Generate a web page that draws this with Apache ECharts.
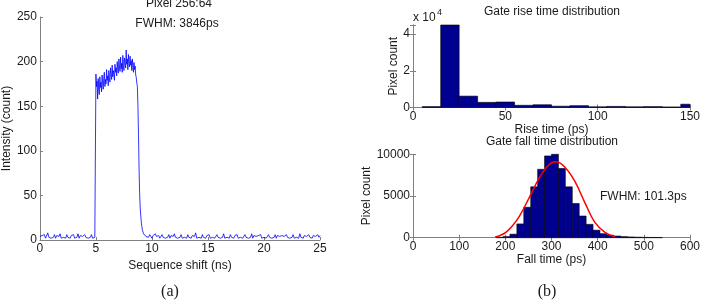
<!DOCTYPE html>
<html>
<head>
<meta charset="utf-8">
<script src="https://cdn.jsdelivr.net/npm/echarts/dist/echarts.min.js"></script>
<style>
    html, body { margin: 0; padding: 0; background: #fff; }
    #chart { width: 703px; height: 303px; }
</style>
</head>
<body>
<div id="chart"></div>
<script>
    // (a) intensity trace of pixel 256:64
    const shiftNs = [
        0, 0.1, 0.2, 0.3, 0.4, 0.5, 0.6, 0.7, 0.8, 0.9,
        1, 1.1, 1.2, 1.3, 1.4, 1.5, 1.6, 1.7, 1.8, 1.9,
        2, 2.1, 2.2, 2.3, 2.4, 2.5, 2.6, 2.7, 2.8, 2.9,
        3, 3.1, 3.2, 3.3, 3.4, 3.5, 3.6, 3.7, 3.8, 3.9,
        4, 4.1, 4.2, 4.3, 4.4, 4.5, 4.6, 4.7, 4.8, 4.9, 4.99,
        5, 5.05, 5.1, 5.15, 5.2, 5.25, 5.3, 5.35, 5.4, 5.45,
        5.5, 5.55, 5.6, 5.65, 5.7, 5.75, 5.8, 5.85, 5.9, 5.95,
        6, 6.05, 6.1, 6.15, 6.2, 6.25, 6.3, 6.35, 6.4, 6.45,
        6.5, 6.55, 6.6, 6.65, 6.7, 6.75, 6.8, 6.85, 6.9, 6.95,
        7, 7.05, 7.1, 7.15, 7.2, 7.25, 7.3, 7.35, 7.4, 7.45,
        7.5, 7.55, 7.6, 7.65, 7.7, 7.75, 7.8, 7.85, 7.9, 7.95,
        8, 8.05, 8.1, 8.15, 8.2, 8.25, 8.3, 8.35, 8.4, 8.45,
        8.5, 8.55, 8.6, 8.65, 8.7, 8.75, 8.8, 8.85, 8.9, 8.95,
        9, 9.05, 9.1, 9.15, 9.2, 9.25, 9.3, 9.35, 9.4, 9.45, 9.5,
        9.6, 9.7, 9.8, 9.9, 10, 10.1, 10.2, 10.3, 10.4, 10.5,
        10.6, 10.7, 10.8, 10.9, 11, 11.1, 11.2, 11.3, 11.4, 11.5,
        11.6, 11.7, 11.8, 11.9, 12, 12.1, 12.2, 12.3, 12.4, 12.5,
        12.6, 12.7, 12.8, 12.9, 13, 13.1, 13.2, 13.3, 13.4, 13.5,
        13.6, 13.7, 13.8, 13.9, 14, 14.1, 14.2, 14.3, 14.4, 14.5,
        14.6, 14.7, 14.8, 14.9, 15, 15.1, 15.2, 15.3, 15.4, 15.5,
        15.6, 15.7, 15.8, 15.9, 16, 16.1, 16.2, 16.3, 16.4, 16.5,
        16.6, 16.7, 16.8, 16.9, 17, 17.1, 17.2, 17.3, 17.4, 17.5,
        17.6, 17.7, 17.8, 17.9, 18, 18.1, 18.2, 18.3, 18.4, 18.5,
        18.6, 18.7, 18.8, 18.9, 19, 19.1, 19.2, 19.3, 19.4, 19.5,
        19.6, 19.7, 19.8, 19.9, 20, 20.1, 20.2, 20.3, 20.4, 20.5,
        20.6, 20.7, 20.8, 20.9, 21, 21.1, 21.2, 21.3, 21.4, 21.5,
        21.6, 21.7, 21.8, 21.9, 22, 22.1, 22.2, 22.3, 22.4, 22.5,
        22.6, 22.7, 22.8, 22.9, 23, 23.1, 23.2, 23.3, 23.4, 23.5,
        23.6, 23.7, 23.8, 23.9, 24, 24.1, 24.2, 24.3, 24.4, 24.5,
        24.6, 24.7, 24.8, 24.9, 25
    ];
    const intensity = [
        4, 2, 5, 3, 6, 2, 4, 8, 3, 5,
        2, 4, 3, 6, 2, 5, 3, 4, 7, 2,
        4, 3, 5, 2, 6, 3, 4, 2, 5, 3,
        6, 2, 4, 3, 7, 2, 5, 3, 4, 2,
        6, 3, 5, 2, 4, 3, 6, 2, 4, 3, 2,
        186, 172, 178, 158, 181, 168, 163, 183, 171, 177,
        166, 185, 176, 169, 182, 188, 172, 180, 175, 191,
        179, 184, 173, 190, 182, 177, 193, 185, 180, 196,
        183, 190, 186, 179, 197, 188, 193, 184, 200, 191,
        187, 203, 194, 189, 205, 192, 198, 188, 207, 196,
        190, 204, 199, 193, 213, 197, 203, 191, 208, 198,
        194, 206, 196, 201, 190, 203, 195, 188, 199, 191,
        195, 185, 182, 176, 172, 150, 118, 80, 52, 36,
        28, 20, 15, 11, 9, 7, 8, 5, 6, 4, 6,
        5, 3, 6, 4, 2, 5, 3, 7, 4, 3,
        5, 2, 4, 6, 3, 5, 2, 4, 3, 6,
        2, 5, 3, 4, 7, 3, 5, 2, 4, 3,
        6, 2, 4, 3, 5, 2, 6, 3, 4, 2,
        5, 3, 4, 8, 2, 4, 3, 5, 2, 6,
        3, 4, 2, 5, 3, 6, 2, 4, 3, 5,
        2, 4, 6, 3, 5, 2, 4, 3, 7, 2,
        4, 3, 5, 2, 6, 3, 4, 2, 5, 3,
        6, 2, 4, 3, 5, 2, 4, 6, 3, 5,
        2, 4, 3, 7, 2, 5, 3, 4, 2, 5,
        3, 6, 2, 4, 3, 5, 2, 4, 6, 3,
        5, 2, 4, 3, 6, 2, 5, 3, 4, 2,
        5, 3, 4, 2, 6, 3, 5, 2, 4, 3,
        6, 2, 4, 3, 5, 2, 7, 3, 4, 2,
        5, 3, 4, 2, 6, 3, 4, 2, 5, 3,
        4, 2, 6, 3, 5
    ];

    // (b) top: rise time histogram, 10 ps bins
    const riseCenters = [10, 20, 30, 40, 50, 60, 70, 80, 90, 100, 110, 120, 130, 140, 150];
    const riseCounts = [500, 45000, 6200, 2800, 3000, 1200, 1500, 700, 1000, 400, 600, 400, 500, 300, 1800];
    const riseBinWidth = 10;

    // (b) bottom: fall time histogram, 15 ps bins, plus gaussian fit
    const fallCenters = [187.5, 202.5, 217.5, 232.5, 247.5, 262.5, 277.5, 292.5, 307.5, 322.5, 337.5, 352.5,
        367.5, 382.5, 397.5, 412.5, 427.5, 442.5, 457.5, 472.5, 487.5, 502.5, 517.5, 532.5];
    const fallCounts = [40, 130, 420, 1650, 3650, 6100, 8200, 9800, 10000, 8300, 6100, 4100,
        2600, 1600, 900, 480, 300, 200, 130, 90, 60, 40, 30, 20];
    const fallBinWidth = 15;
    const fitFallTime = [178, 190, 201, 215, 230, 251, 273, 294, 310, 330, 351, 373, 394, 416, 437];
    const fitCount = [80, 300, 640, 1400, 2520, 4720, 7120, 8720, 9100, 8400, 6720, 4120, 1840, 640, 120];

    const axisGray = '#808080';
    const textColor = '#1a1a1a';
    const font = 'Liberation Sans, Arial, sans-serif';
    const fs = 12;

    function histData(centers, counts, w) {
        return centers.map((c, i) => [c - w / 2, c + w / 2, counts[i]]);
    }

    function renderBin(params, api) {
        let cs = params.coordSys;
        let p0 = api.coord([api.value(0), api.value(2)]);
        let p1 = api.coord([api.value(1), 0]);
        let x0 = Math.max(p0[0], cs.x);
        let x1 = Math.min(p1[0], cs.x + cs.width);
        let y0 = Math.max(p0[1], cs.y);
        let y1 = p1[1];
        if (x1 <= x0 || y1 <= y0) return;
        return {
            type: 'rect',
            shape: { x: x0, y: y0, width: x1 - x0, height: y1 - y0 },
            style: { fill: '#000090', stroke: '#000000', lineWidth: 0.6 }
        };
    }

    function valueAxis(grid, min, max, interval, extra) {
        return Object.assign({
            type: 'value',
            gridIndex: grid,
            min: min,
            max: max,
            interval: interval,
            axisLine: { show: true, lineStyle: { color: axisGray, width: 1 } },
            axisTick: { show: true, inside: true, length: 3, lineStyle: { color: axisGray } },
            splitLine: { show: false },
            axisLabel: { color: textColor, fontSize: fs, fontFamily: font, margin: 3, formatter: v => String(v) },
            nameTextStyle: { color: textColor, fontSize: fs, fontFamily: font }
        }, extra);
    }

    // box sides with ticks only
    function boxAxis(grid, min, max, interval, pos) {
        return valueAxis(grid, min, max, interval, {
            position: pos,
            axisLabel: { show: false }
        });
    }

    function label(text, x, y, align, size) {
        return {
            type: 'text', x: x, y: y,
            style: { text: text, font: (size || fs) + 'px ' + font, fill: textColor, textAlign: align || 'center', textVerticalAlign: 'middle' }
        };
    }

    let myChart = echarts.init(document.getElementById('chart'), null, { renderer: 'canvas' });
    myChart.setOption({
        animation: false,
        backgroundColor: '#ffffff',
        grid: [
            { left: 35, top: 17, width: 285, height: 223 },
            { left: 413, top: 25, width: 280, height: 82.5 },
            { left: 413, top: 154.3, width: 280, height: 83.4 }
        ],
        xAxis: [
            valueAxis(0, 0, 25, 5, {
                name: 'Sequence shift (ns)', nameLocation: 'middle', nameGap: 13
            }),
            valueAxis(1, 0, 150, 50, {
                name: 'Rise time (ps)', nameLocation: 'middle', nameGap: 13
            }),
            boxAxis(1, 0, 150, 50, 'top'),
            valueAxis(2, 0, 600, 100, {
                name: 'Fall time (ps)', nameLocation: 'middle', nameGap: 14
            }),
            boxAxis(2, 0, 600, 100, 'top')
        ],
        yAxis: [
            valueAxis(0, 0, 250, 50, {
                name: 'Intensity (count)', nameLocation: 'middle', nameGap: 22
            }),
            valueAxis(1, 0, 45000, 20000, {
                name: 'Pixel count', nameLocation: 'middle', nameGap: 9,
                axisLabel: {
                    color: textColor, fontSize: fs, fontFamily: font, margin: 3,
                    formatter: v => (v % 20000 === 0 ? String(v / 10000) : '')
                }
            }),
            boxAxis(1, 0, 45000, 20000, 'right'),
            valueAxis(2, 0, 10000, 5000, {
                name: 'Pixel count', nameLocation: 'middle', nameGap: 40
            }),
            boxAxis(2, 0, 10000, 5000, 'right')
        ],
        series: [
            {
                type: 'line',
                xAxisIndex: 0,
                yAxisIndex: 0,
                showSymbol: false,
                lineStyle: { color: '#0000ff', width: 0.8 },
                data: shiftNs.map((t, i) => [t, intensity[i]])
            },
            {
                type: 'custom',
                xAxisIndex: 1,
                yAxisIndex: 1,
                renderItem: renderBin,
                encode: { x: [0, 1], y: 2 },
                data: histData(riseCenters, riseCounts, riseBinWidth)
            },
            {
                type: 'custom',
                xAxisIndex: 3,
                yAxisIndex: 3,
                renderItem: renderBin,
                encode: { x: [0, 1], y: 2 },
                data: histData(fallCenters, fallCounts, fallBinWidth)
            },
            {
                type: 'line',
                xAxisIndex: 3,
                yAxisIndex: 3,
                showSymbol: false,
                smooth: 0.4,
                lineStyle: { color: '#ff0000', width: 1.5 },
                data: fitFallTime.map((t, i) => [t, fitCount[i]]),
                z: 5
            }
        ],
        graphic: [
            label('Pixel 256:64', 179, 4),
            label('FWHM: 3846ps', 177, 24),
            label('Gate rise time distribution', 552, 12),
            label('x 10', 413, 18, 'left'),
            label('4', 437, 13, 'left', 9),
            label('Gate fall time distribution', 552, 141.5),
            label('FWHM: 101.3ps', 600, 197, 'left'),
            { type: 'text', x: 170, y: 292, style: { text: '(a)', font: '16px Liberation Serif, Times New Roman, serif', fill: textColor, textAlign: 'center', textVerticalAlign: 'middle' } },
            { type: 'text', x: 547, y: 292, style: { text: '(b)', font: '16px Liberation Serif, Times New Roman, serif', fill: textColor, textAlign: 'center', textVerticalAlign: 'middle' } }
        ]
    });
</script>
</body>
</html>
